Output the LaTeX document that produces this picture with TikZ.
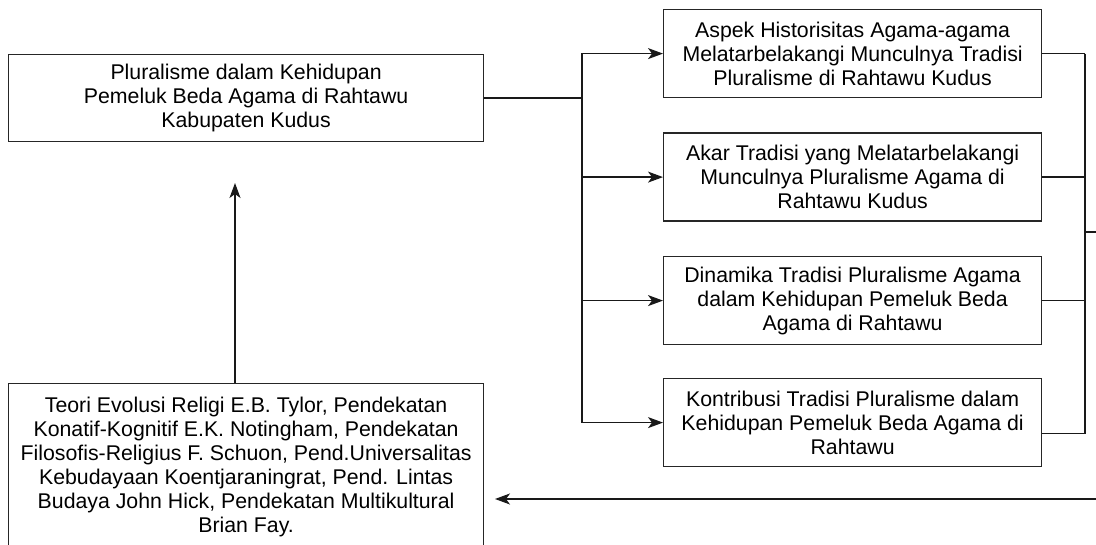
\documentclass[tikz,border=0pt]{standalone}
\usepackage{fontspec}
\setmainfont{Liberation Sans}
\usetikzlibrary{arrows.meta,calc}
\begin{document}
\begin{tikzpicture}[x=1pt,y=-1pt,
  box/.style={draw=black!85, line width=1.2pt, align=center, anchor=north west,
    inner sep=0pt, font=\fontsize{21.3}{24}\selectfont},
  sidebox/.style={box, minimum width=378pt, minimum height=88pt},
  link/.style={draw=black!90, line width=1.2pt},
  arr/.style={link, -{Stealth[length=15pt,width=11pt,inset=4pt]}}]
\path[use as bounding box] (0,0) rectangle (1096,545);
\clip (0,0) rectangle (1096,545);

% topic box and theory box on the left
\node[box, minimum width=475pt, minimum height=87pt] (main) at (8,54)
  {Pluralisme dalam Kehidupan\\Pemeluk Beda Agama di Rahtawu\\Kabupaten Kudus};
\node[box, minimum width=475pt, minimum height=166pt] (theory) at (8,383)
  {Teori Evolusi Religi E.B. Tylor, Pendekatan\\
   Konatif-Kognitif E.K. Notingham, Pendekatan\\
   Filosofis-Religius F. Schuon, Pend.Universalitas\\
   Kebudayaan Koentjaraningrat, Pend. Lintas\\
   Budaya John Hick, Pendekatan Multikultural\\
   Brian Fay.};

% the four research questions
\node[sidebox] (q1) at (663,9)
  {Aspek Historisitas Agama-agama\\Melatarbelakangi Munculnya Tradisi\\Pluralisme di Rahtawu Kudus};
\node[sidebox] (q2) at (663,132.5)
  {Akar Tradisi yang Melatarbelakangi\\Munculnya Pluralisme Agama di\\Rahtawu Kudus};
\node[sidebox] (q3) at (663,256)
  {Dinamika Tradisi Pluralisme Agama\\dalam Kehidupan Pemeluk Beda\\Agama di Rahtawu};
\node[sidebox] (q4) at (663,378)
  {Kontribusi Tradisi Pluralisme dalam\\Kehidupan Pemeluk Beda Agama di\\Rahtawu};

% bus lines and free ends
\coordinate (busL) at (582,0);
\coordinate (busR) at (1085,0);
\coordinate (q4out) at ($(q4.east)+(0,11)$);
\coordinate (exitR) at (1096,232);
\coordinate (enterR) at (1096,499);
\coordinate (tipL) at (495,499);
\coordinate (tipUp) at (235,183);

% fan-out from the topic to the questions
\foreach \q in {q1,q2,q3,q4}
  \draw[arr] (main.east) -- (main.east -| busL) |- (\q.west);

% collecting the questions on the right
\foreach \q in {q1,q2,q3}
  \draw[link] (\q.east) -- (\q.east -| busR);
\draw[link] (q4out) -- (q4out -| busR);
\draw[link] (q1.east -| busR) -- (q4out -| busR);
\draw[link] (exitR -| busR) -- (exitR);

% return to the theory box and up to the topic
\draw[arr] (enterR) -- (tipL);
\draw[arr] (theory.north -| tipUp) -- (tipUp);
\end{tikzpicture}
\end{document}
